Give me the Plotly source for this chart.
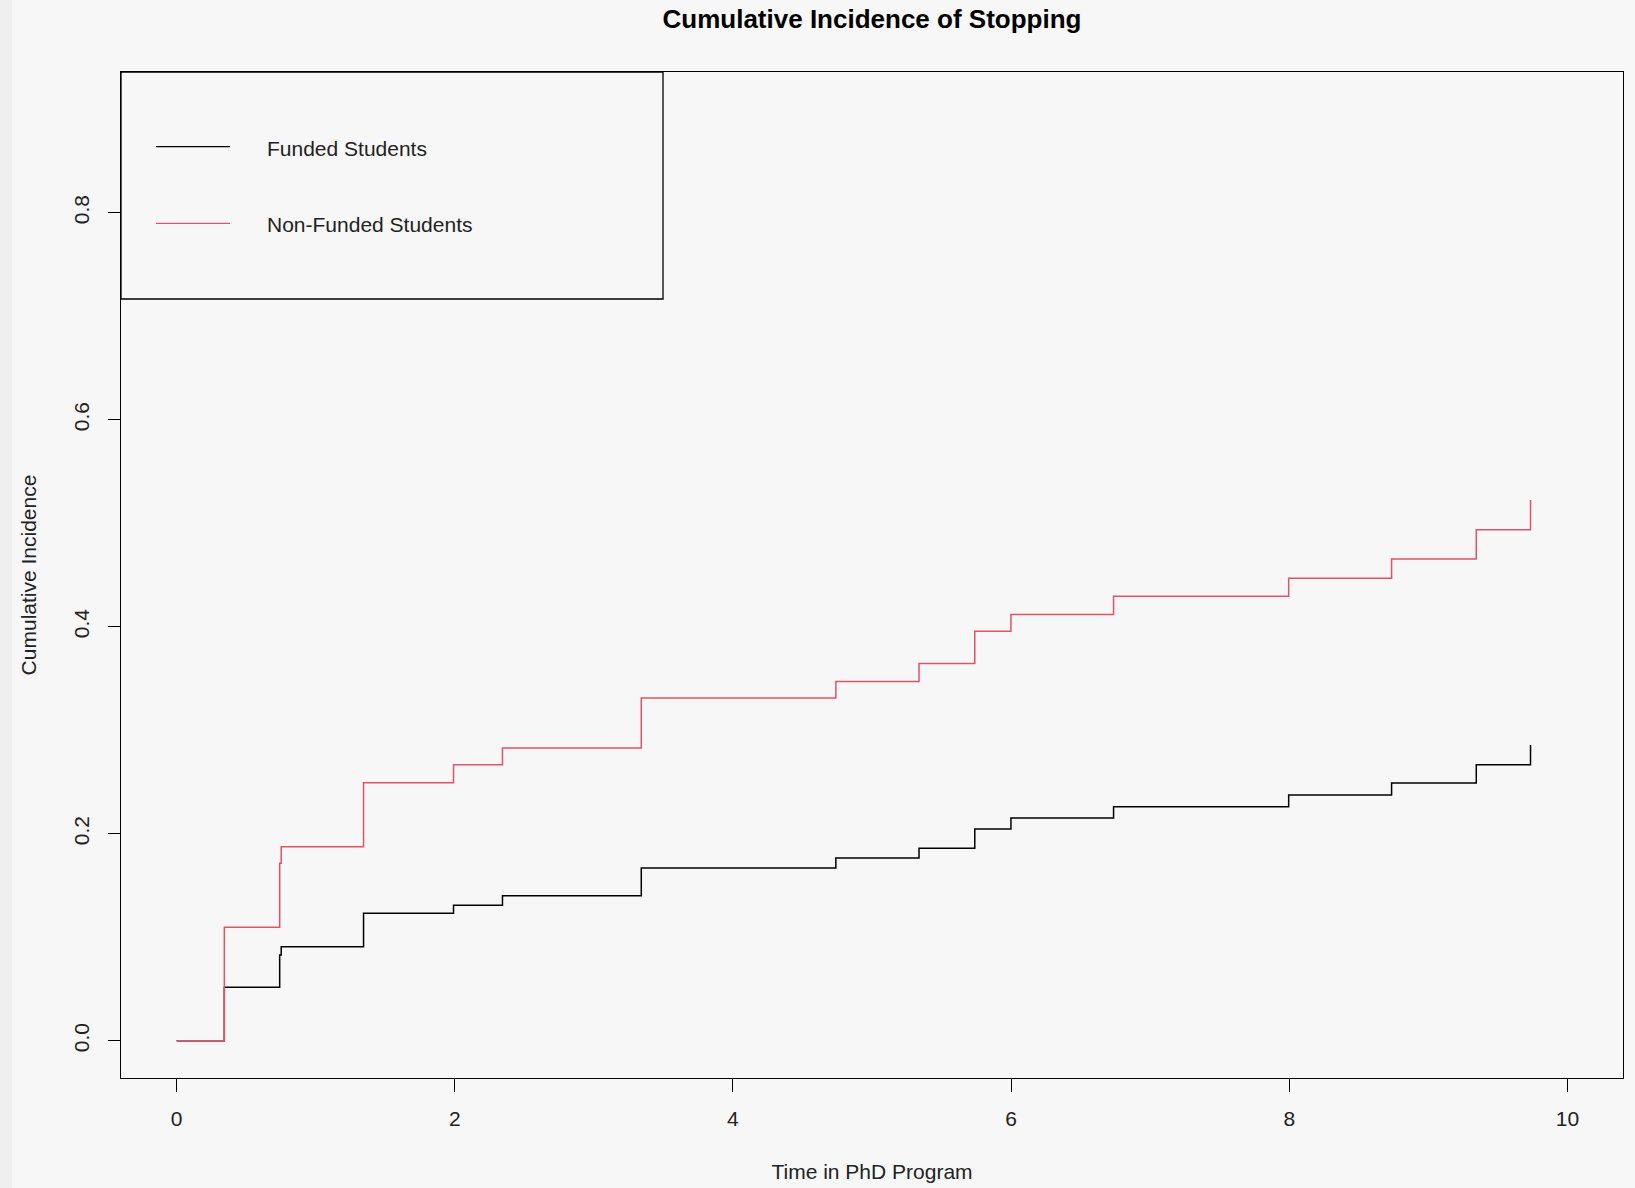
import plotly.graph_objects as go

# Event times (years in PhD program) and cumulative incidence estimates
times = [0, 0.343, 0.741, 0.752, 1.344, 1.991, 2.343, 3.341, 4.740, 5.338,
         5.739, 5.999, 6.737, 7.996, 8.736, 9.345, 9.735]
funded = [0, 0.0516, 0.0828, 0.0908, 0.1231, 0.1309, 0.1401, 0.1670, 0.1765,
          0.1859, 0.2046, 0.2153, 0.2261, 0.2374, 0.2490, 0.2667, 0.2857]
non_funded = [0, 0.1096, 0.1714, 0.1875, 0.2493, 0.2667, 0.2828, 0.3311, 0.3472,
              0.3646, 0.3956, 0.4118, 0.4294, 0.4468, 0.4654, 0.4937, 0.5224]

x_ticks = [0, 2, 4, 6, 8, 10]
y_ticks = [0.0, 0.2, 0.4, 0.6, 0.8]
y_tick_text = ["0.0", "0.2", "0.4", "0.6", "0.8"]

series_names = ["Funded Students", "Non-Funded Students"]
series_colors = ["#000000", "#DF536B"]

W, H = 1635, 1188
ML, MR, MT, MB = 121, 12, 72, 110
PW, PH = W - ML - MR, H - MT - MB
BG = "#f7f7f7"
FONT = "Liberation Sans, Arial, sans-serif"
TXT = "#222222"


def px_x(px):
    return (px - ML) / PW


def px_y(py):
    return 1 - (py - MT) / PH


fig = go.Figure()
fig.add_trace(go.Scatter(x=times, y=funded, mode="lines", line_shape="hv",
                         line=dict(color=series_colors[0], width=1.5),
                         name=series_names[0], showlegend=False))
fig.add_trace(go.Scatter(x=times, y=non_funded, mode="lines", line_shape="hv",
                         line=dict(color=series_colors[1], width=1.5),
                         name=series_names[1], showlegend=False))

shapes = [
    # slightly darker strip at the very left edge of the screenshot
    dict(type="rect", xref="paper", yref="paper", x0=px_x(0), x1=px_x(12),
         y0=px_y(H), y1=px_y(0), fillcolor="#efefef", line=dict(width=0), layer="below"),
    # legend box
    dict(type="rect", xref="paper", yref="paper", x0=0, x1=px_x(663),
         y0=px_y(299), y1=1, line=dict(color="#000000", width=1.3), fillcolor="rgba(0,0,0,0)"),
]
annotations = []
legend_y = [146.7, 223.3]
for name, col, ly in zip(series_names, series_colors, legend_y):
    shapes.append(dict(type="line", xref="paper", yref="paper", x0=px_x(156), x1=px_x(230),
                       y0=px_y(ly), y1=px_y(ly), line=dict(color=col, width=1.3)))
    annotations.append(dict(text=name, xref="paper", yref="paper", x=px_x(265), y=px_y(ly + 1.5),
                            xanchor="left", yanchor="middle", showarrow=False,
                            font=dict(family=FONT, size=21, color=TXT)))

fig.update_layout(
    width=W, height=H,
    margin=dict(l=ML, r=MR, t=MT, b=MB, autoexpand=False),
    paper_bgcolor=BG, plot_bgcolor=BG,
    title=dict(text="<b>Cumulative Incidence of Stopping</b>", x=px_x(872), xref="paper",
               y=1 - 19 / H, yref="container", xanchor="center", yanchor="middle",
               font=dict(family=FONT, size=26, color="#000000")),
    showlegend=False,
    shapes=shapes,
    annotations=annotations,
    xaxis=dict(range=[-0.4, 10.4], tickvals=x_ticks, ticks="outside", ticklen=13,
               tickcolor="#000000", tickwidth=1, showgrid=False, zeroline=False,
               showline=True, mirror=True, linecolor="#000000", linewidth=1.3,
               tickfont=dict(family=FONT, size=21, color=TXT), ticklabelstandoff=9,
               title=dict(text="Time in PhD Program", standoff=34,
                          font=dict(family=FONT, size=21, color=TXT)),
               automargin=False, fixedrange=True),
    yaxis=dict(range=[-0.036, 0.936], tickvals=y_ticks, ticktext=y_tick_text,
               ticks="outside", ticklen=12, tickcolor="#000000", tickwidth=1,
               tickangle=-90, showgrid=False, zeroline=False,
               showline=True, mirror=True, linecolor="#000000", linewidth=1.3,
               tickfont=dict(family=FONT, size=21, color=TXT), ticklabelstandoff=10,
               title=dict(text="Cumulative Incidence", standoff=28,
                          font=dict(family=FONT, size=21, color=TXT)),
               automargin=False, fixedrange=True),
)

fig.write_html("out.html", config={"displayModeBar": False},
               post_script="document.body.style.margin='0';document.body.style.padding='0';"
                           "document.body.style.background='" + BG + "';")
